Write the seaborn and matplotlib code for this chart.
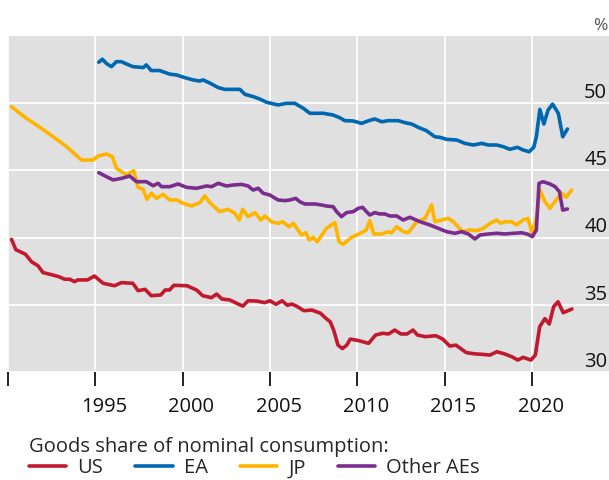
import numpy as np
import pandas as pd
import matplotlib
matplotlib.use("Agg")
import matplotlib.pyplot as plt
import seaborn as sns

# Goods share of nominal consumption, %
us_year = [1990.2, 1990.45, 1991.0, 1991.35, 1991.72, 1992.0, 1992.4, 1992.9, 1993.25, 1993.55,
           1993.8, 1994.0, 1994.55, 1994.95, 1995.45, 1996.1, 1996.5, 1997.15, 1997.45, 1997.85,
           1998.2, 1998.75, 1999.0, 1999.25, 1999.5, 2000.25, 2000.8, 2001.15, 2001.65, 2001.95,
           2002.25, 2002.7, 2003.1, 2003.45, 2003.75, 2004.25, 2004.7, 2005.0, 2005.35, 2005.7,
           2006.0, 2006.25, 2006.55, 2006.95, 2007.4, 2007.9, 2008.2, 2008.45, 2008.65, 2008.9,
           2009.15, 2009.4, 2009.6, 2010.1, 2010.65, 2011.05, 2011.45, 2011.8, 2012.15, 2012.5,
           2012.85, 2013.2, 2013.45, 2013.9, 2014.5, 2014.9, 2015.3, 2015.65, 2016.25, 2016.8,
           2017.2, 2017.6, 2018.0, 2018.45, 2018.85, 2019.2, 2019.5, 2019.95, 2020.2, 2020.45,
           2020.75, 2021.0, 2021.25, 2021.5, 2021.8, 2022.3]
us_share = [39.87, 39.1, 38.76, 38.2, 37.9, 37.4, 37.27, 37.1, 36.9, 36.9,
            36.72, 36.85, 36.85, 37.14, 36.6, 36.42, 36.65, 36.6, 36.05, 36.15,
            35.68, 35.73, 36.1, 36.1, 36.45, 36.42, 36.1, 35.68, 35.53, 35.8,
            35.43, 35.36, 35.11, 34.9, 35.3, 35.28, 35.16, 35.3, 35.04, 35.3,
            34.96, 35.06, 34.88, 34.56, 34.61, 34.37, 34.0, 33.74, 33.12, 32.0,
            31.74, 32.0, 32.45, 32.33, 32.13, 32.75, 32.88, 32.83, 33.12, 32.83,
            32.83, 33.12, 32.75, 32.63, 32.7, 32.45, 31.93, 32.0, 31.44, 31.34,
            31.31, 31.26, 31.51, 31.34, 31.14, 30.89, 31.09, 30.89, 31.26, 33.37,
            33.97, 33.57, 34.86, 35.23, 34.41, 34.69]

ea_year = [1995.2, 1995.4, 1995.67, 1995.93, 1996.2, 1996.5, 1996.78, 1997.15, 1997.75, 1997.92,
           1998.2, 1998.68, 1999.27, 1999.65, 2000.13, 2000.6, 2000.98, 2001.17, 2001.56, 2002.04,
           2002.42, 2002.89, 2003.28, 2003.57, 2004.04, 2004.42, 2004.81, 2005.47, 2005.96, 2006.43,
           2006.91, 2007.29, 2008.05, 2008.62, 2009.0, 2009.29, 2009.76, 2010.25, 2010.62, 2011.0,
           2011.4, 2011.78, 2012.35, 2012.74, 2013.12, 2013.5, 2013.97, 2014.45, 2014.74, 2015.13,
           2015.7, 2016.17, 2016.65, 2017.13, 2017.51, 2017.99, 2018.37, 2018.74, 2019.17, 2019.5,
           2019.85, 2020.11, 2020.26, 2020.46, 2020.69, 2020.93, 2021.19, 2021.52, 2021.77, 2022.04]
ea_share = [53.05, 53.27, 52.92, 52.72, 53.09, 53.09, 52.92, 52.72, 52.65, 52.85,
            52.43, 52.43, 52.16, 52.1, 51.9, 51.73, 51.65, 51.73, 51.5, 51.16,
            51.03, 51.03, 51.03, 50.66, 50.49, 50.31, 50.07, 49.87, 49.99, 49.99,
            49.62, 49.25, 49.25, 49.12, 48.92, 48.7, 48.68, 48.5, 48.68, 48.83,
            48.62, 48.7, 48.7, 48.55, 48.45, 48.2, 47.95, 47.5, 47.46, 47.31,
            47.26, 47.01, 46.89, 47.01, 46.89, 46.89, 46.76, 46.57, 46.72, 46.52,
            46.39, 46.72, 47.5, 49.54, 48.45, 49.49, 49.93, 49.24, 47.5, 48.08]

jp_year = [1990.2, 1991.05, 1991.82, 1992.58, 1993.35, 1994.21, 1994.87, 1995.16, 1995.64, 1995.98,
           1996.21, 1996.78, 1997.2, 1997.45, 1997.74, 1997.96, 1998.21, 1998.5, 1998.88, 1999.27,
           1999.65, 2000.03, 2000.51, 2000.98, 2001.27, 2001.56, 2002.12, 2002.61, 2002.99, 2003.24,
           2003.44, 2003.75, 2004.14, 2004.48, 2004.71, 2005.09, 2005.47, 2005.72, 2006.1, 2006.34,
           2006.81, 2007.06, 2007.25, 2007.48, 2007.71, 2008.24, 2008.72, 2008.96, 2009.19, 2009.68,
           2009.96, 2010.35, 2010.53, 2010.72, 2010.95, 2011.4, 2011.78, 2011.97, 2012.26, 2012.64,
           2012.92, 2013.41, 2013.89, 2014.26, 2014.45, 2014.84, 2015.21, 2015.5, 2016.04, 2016.46,
           2016.84, 2017.23, 2017.61, 2017.99, 2018.22, 2018.45, 2018.84, 2019.13, 2019.5, 2019.77,
           2020.03, 2020.26, 2020.46, 2020.75, 2021.04, 2021.42, 2021.71, 2021.96, 2022.28]
jp_share = [49.74, 48.88, 48.21, 47.51, 46.77, 45.77, 45.77, 46.07, 46.22, 46.02,
            45.16, 44.66, 44.98, 43.74, 43.59, 42.85, 43.3, 42.92, 43.22, 42.8,
            42.8, 42.55, 42.35, 42.6, 43.1, 42.6, 41.93, 42.1, 41.81, 41.31,
            42.1, 41.56, 41.86, 41.31, 41.61, 41.18, 41.06, 41.18, 40.81, 41.06,
            40.19, 40.36, 39.82, 40.02, 39.69, 40.69, 41.11, 39.69, 39.5, 40.02,
            40.19, 40.44, 40.57, 41.26, 40.27, 40.27, 40.44, 40.36, 40.81, 40.44,
            40.36, 41.18, 41.43, 42.43, 41.18, 41.31, 41.43, 41.18, 40.44, 40.57,
            40.51, 40.69, 41.06, 41.31, 41.06, 41.18, 41.18, 40.94, 41.31, 41.43,
            40.32, 41.43, 43.54, 42.67, 42.18, 42.85, 43.3, 43.0, 43.54]

oth_year = [1995.2, 1995.64, 1996.02, 1996.5, 1996.97, 1997.36, 1997.92, 1998.31, 1998.6, 1998.79,
            1999.27, 1999.74, 2000.22, 2000.8, 2001.37, 2001.66, 2002.04, 2002.51, 2002.89, 2003.37,
            2003.75, 2004.04, 2004.33, 2004.61, 2004.99, 2005.47, 2005.85, 2006.15, 2006.48, 2006.71,
            2007.0, 2007.58, 2007.95, 2008.24, 2008.62, 2008.82, 2009.1, 2009.39, 2009.77, 2010.06,
            2010.31, 2010.53, 2010.72, 2011.0, 2011.29, 2011.58, 2011.87, 2012.26, 2012.63, 2013.02,
            2013.6, 2014.16, 2014.64, 2015.12, 2015.59, 2015.98, 2016.36, 2016.74, 2017.03, 2017.51,
            2017.99, 2018.45, 2018.94, 2019.42, 2019.77, 2020.03, 2020.26, 2020.41, 2020.64, 2021.04,
            2021.33, 2021.58, 2021.77, 2022.04]
oth_share = [44.83, 44.53, 44.29, 44.41, 44.58, 44.16, 44.16, 43.86, 44.04, 43.79,
             43.79, 43.99, 43.74, 43.67, 43.84, 43.79, 44.04, 43.84, 43.91, 43.96,
             43.84, 43.54, 43.67, 43.3, 43.17, 42.8, 42.75, 42.8, 42.92, 42.67,
             42.5, 42.5, 42.43, 42.35, 42.3, 41.93, 41.56, 41.86, 41.93, 42.18,
             42.25, 41.93, 41.68, 41.86, 41.76, 41.76, 41.61, 41.61, 41.31, 41.51,
             41.18, 40.94, 40.69, 40.44, 40.32, 40.44, 40.27, 39.9, 40.19, 40.27,
             40.32, 40.27, 40.32, 40.36, 40.25, 40.07, 40.57, 44.04, 44.16, 43.99,
             43.79, 43.42, 42.05, 42.13]

series_names = ["US", "EA", "JP", "Other AEs"]
series_colors = ["#C1192F", "#0067B1", "#FFB400", "#7B2D8E"]
y_ticks = [30, 35, 40, 45, 50]
x_label_years = [1995, 2000, 2005, 2010, 2015, 2020]

frames = []
for name, yr, val in zip(series_names,
                         [us_year, ea_year, jp_year, oth_year],
                         [us_share, ea_share, jp_share, oth_share]):
    frames.append(pd.DataFrame({"year": yr, "share": val, "series": name}))
df = pd.concat(frames, ignore_index=True)

sns.set_theme(style="white", rc={"axes.facecolor": "#E0E0E0"})
plt.rcParams["font.family"] = ["Open Sans", "DejaVu Sans"]
FS = 14.5

fig = plt.figure(figsize=(6.09, 4.8), dpi=100)
ax = fig.add_axes([8 / 609, 1 - 372 / 480, 1 - 8 / 609, 336 / 480])

sns.lineplot(data=df, x="year", y="share", hue="series", hue_order=series_names,
             palette=series_colors, estimator=None, sort=False, linewidth=2.6, ax=ax)

ax.set_xlim(1990, 2024.42)
ax.set_ylim(30, 55)
for s in ax.spines.values():
    s.set_visible(False)

# major ticks at year starts (no labels), labels centred mid-year
ax.set_xticks(np.arange(1990, 2021, 5))
ax.set_xticklabels([])
ax.set_xticks([y + 0.5 for y in x_label_years], minor=True)
ax.set_xticklabels([str(y) for y in x_label_years], minor=True)
ax.tick_params(axis="x", which="major", direction="out", length=10, width=1.3,
               color="#111111", bottom=True)
ax.tick_params(axis="x", which="minor", length=0, pad=18, labelsize=FS, labelcolor="#111111")

ax.set_yticks(y_ticks)
ax.tick_params(axis="y", left=False, labelleft=False)
ax.grid(True, which="major", color="white", linewidth=1.3)
ax.set_axisbelow(True)

for v in y_ticks:
    ax.text(0.997, v + 0.02, str(v), transform=ax.get_yaxis_transform(),
            ha="right", va="bottom", fontsize=FS, color="#111111")
fig.text(0.998, 1 - 30 / 480, "%", ha="right", va="baseline", fontsize=12.5, color="#555555")

ax.set_xlabel("")
ax.set_ylabel("")

handles, labels = ax.get_legend_handles_labels()
ax.get_legend().remove()
leg = fig.legend(handles, labels, loc="upper left", bbox_to_anchor=(29 / 609, 1 - 437 / 480),
                 ncol=4, frameon=False, fontsize=FS, title="Goods share of nominal consumption:",
                 title_fontsize=FS, alignment="left", handlelength=1.85, handletextpad=0.55,
                 columnspacing=1.6, borderpad=0, borderaxespad=0, labelspacing=0.1)
leg._legend_box.sep = 1
for line in leg.get_lines():
    line.set_linewidth(2.6)

fig.savefig("out.png", dpi=100)
